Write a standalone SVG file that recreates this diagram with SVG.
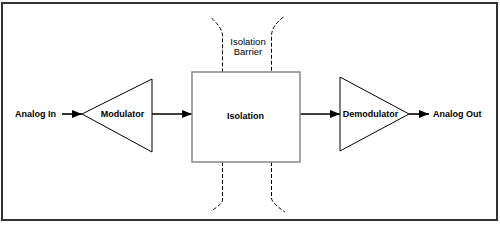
<svg xmlns="http://www.w3.org/2000/svg" width="500" height="226" viewBox="0 0 500 226">
<style>
.lbl{font-family:"Liberation Sans",Arial,sans-serif;font-size:9px;font-weight:bold;fill:#000}
.reg{font-family:"Liberation Sans",Arial,sans-serif;font-size:9.5px;fill:#000}
.tri{fill:#fff;stroke:#000;stroke-width:1}
.conn{stroke:#000;stroke-width:1.6;fill:none}
.bar{stroke:#000;stroke-width:1;fill:none;stroke-dasharray:4 2}
</style>
<defs>
<marker id="ah" markerWidth="10" markerHeight="8" refX="10" refY="4" orient="auto" markerUnits="userSpaceOnUse">
<path d="M0,0 L10,4 L0,8 Z" fill="#000"/>
</marker>
</defs>
<rect x="2" y="3" width="495" height="217" fill="#fff" stroke="#333" stroke-width="2"/>
<g id="barrier">
<path class="bar" d="M211.5,18 Q222.5,28 222.5,36 L222.5,72"/>
<path class="bar" d="M283.5,17 Q271.5,26 271.5,36 L271.5,72"/>
<path class="bar" d="M222.5,162 L222.5,200 Q222.5,204 211,211"/>
<path class="bar" d="M271.5,162 L271.5,198 Q271.5,203 285,212"/>
<text class="reg" x="248" y="45" text-anchor="middle">Isolation</text>
<text class="reg" x="248" y="55" text-anchor="middle">Barrier</text>
</g>
<g id="connectors">
<line class="conn" x1="62" y1="114" x2="82" y2="114" marker-end="url(#ah)"/>
<line class="conn" x1="152" y1="114" x2="192" y2="114" marker-end="url(#ah)"/>
<line class="conn" x1="300" y1="114" x2="340" y2="114" marker-end="url(#ah)"/>
<line class="conn" x1="409" y1="114" x2="429" y2="114" marker-end="url(#ah)"/>
</g>
<g id="analog-in"><text class="lbl" x="15" y="117">Analog In</text></g>
<g id="modulator">
<polygon class="tri" points="82,114 152,79 152,152"/>
<text class="lbl" x="122.5" y="117" text-anchor="middle">Modulator</text>
</g>
<g id="isolation">
<rect x="192" y="72" width="108" height="90" fill="#fff" stroke="#888" stroke-width="1.5"/>
<text class="lbl" x="245.5" y="119" text-anchor="middle">Isolation</text>
</g>
<g id="demodulator">
<polygon class="tri" points="340,77 340,151 409,114"/>
<text class="lbl" x="370.5" y="117" text-anchor="middle">Demodulator</text>
</g>
<g id="analog-out"><text class="lbl" x="433" y="117">Analog Out</text></g>
</svg>
